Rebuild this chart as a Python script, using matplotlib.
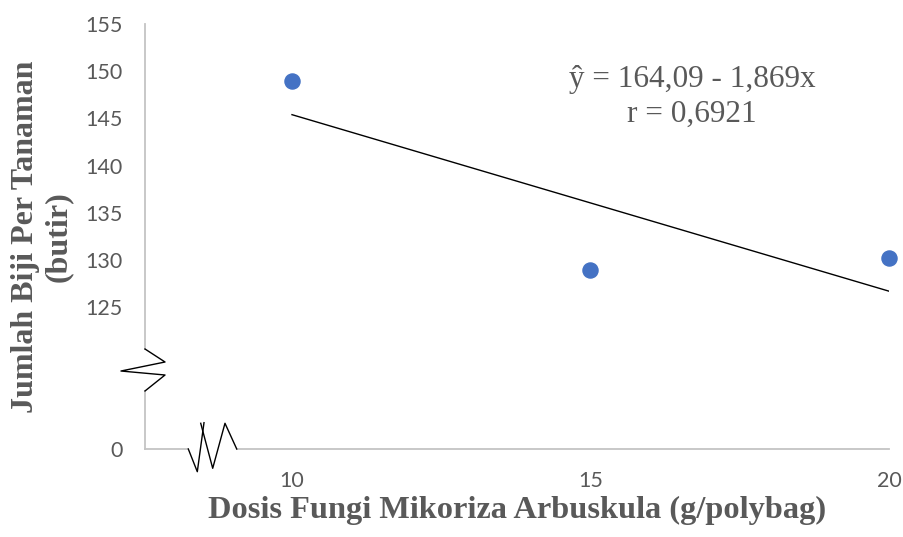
import matplotlib
matplotlib.use("Agg")
import matplotlib.pyplot as plt
import numpy as np

# data
dosis = [10, 15, 20]
biji = [148.93, 128.99, 130.24]
intercept = 164.09
slope = -1.869
r_value = "0,6921"

# y axis is broken: the "0" tick sits where 110 would be
ytick_pos = [110, 125, 130, 135, 140, 145, 150, 155]
ytick_lab = ["0", "125", "130", "135", "140", "145", "150", "155"]
xtick_pos = [10, 15, 20]

grey = "#595959"
axis_grey = "#c4c4c4"

fig = plt.figure(figsize=(9.04, 5.37), dpi=100)
ax = fig.add_axes([145 / 904, 1 - 449 / 537, 744 / 904, 425 / 537])

ax.scatter(dosis, biji, s=118, color="#4472C4", zorder=3, clip_on=False)

xt = np.array([dosis[0], dosis[-1]])
ax.plot(xt, intercept + slope * xt, color="black", lw=1.0)

ax.set_xlim(7.538, 20)
ax.set_ylim(110, 155)
ax.set_xticks(xtick_pos)
ax.set_xticklabels([str(v) for v in xtick_pos])
ax.set_yticks(ytick_pos)
ax.set_yticklabels(ytick_lab)
ax.tick_params(length=0, labelsize=15.5, labelcolor=grey)
ax.tick_params(axis="y", pad=16)
ax.tick_params(axis="x", pad=16)
for lab in ax.get_xticklabels() + ax.get_yticklabels():
    lab.set_family("Lato")

for sp in ax.spines.values():
    sp.set_visible(False)

# broken axis lines, in axes fractions
kw = dict(transform=ax.transAxes, clip_on=False)
ax.plot([0, 0], [1, 0.2353], color=axis_grey, lw=1.3, **kw)
ax.plot([0, 0], [0.1365, 0], color=axis_grey, lw=1.3, **kw)
ax.plot([0, 0.0582], [0, 0], color=axis_grey, lw=1.3, **kw)
ax.plot([0.1233, 1], [0, 0], color=axis_grey, lw=1.3, **kw)

ax.plot([0, 0.0269, -0.0323, 0.0269, 0],
        [0.2353, 0.2047, 0.1835, 0.1741, 0.1365], color="black", lw=1.0, **kw)
ax.plot([0.0582, 0.0703, 0.0793], [0, -0.0534, 0.0619], color="black", lw=1.0, **kw)
ax.plot([0.0749, 0.0910, 0.1075, 0.1233], [0.0605, -0.0454, 0.0605, 0],
        color="black", lw=1.0, **kw)

ax.text(692 / 904, 1 - 79 / 537, "ŷ = 164,09 - 1,869x", transform=fig.transFigure,
        ha="center", va="center", fontsize=22.5, color=grey, family="Liberation Serif")
ax.text(692 / 904, 1 - 114 / 537, "r = " + r_value, transform=fig.transFigure,
        ha="center", va="center", fontsize=22.5, color=grey, family="Liberation Serif")

fig.text(517 / 904, 1 - 510 / 537, "Dosis Fungi Mikoriza Arbuskula (g/polybag)",
         ha="center", va="center", fontsize=23.3, fontweight="bold", color=grey,
         family="Liberation Serif")
fig.text(42 / 904, 1 - 237 / 537, "Jumlah Biji Per Tanaman\n(butir)",
         ha="center", va="center", rotation=90, fontsize=23, fontweight="bold",
         color=grey, family="Liberation Serif", linespacing=1.2)

fig.savefig("out.png", dpi=100)
